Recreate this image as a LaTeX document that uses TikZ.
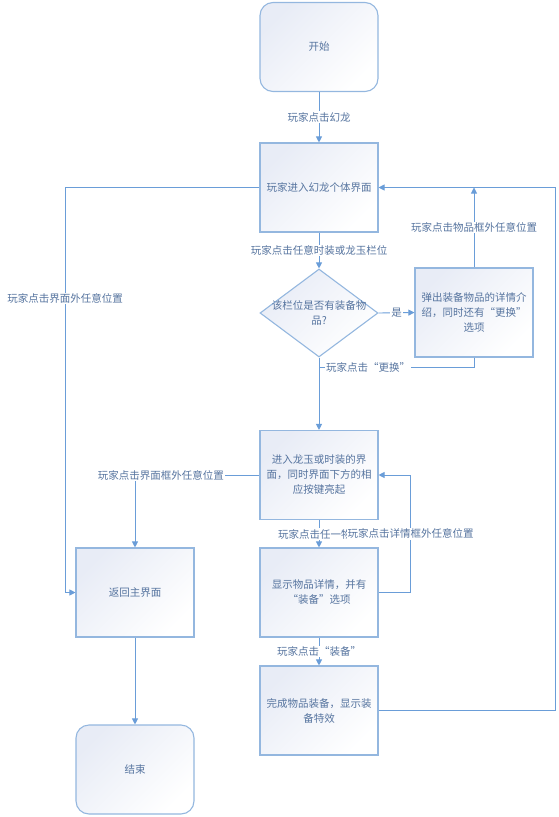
\documentclass[tikz,border=0pt]{standalone}
\usepackage{fontspec}
\setmainfont{Noto Sans CJK SC}
\usetikzlibrary{arrows.meta,shapes.geometric}
\definecolor{lnc}{HTML}{6A9DD8}
\definecolor{tx}{HTML}{56749F}
\definecolor{bd}{HTML}{94B7DF}
\definecolor{sh}{HTML}{E8ECF6}
\begin{document}
\begin{tikzpicture}[x=1pt,y=-1pt,
 every node/.style={font=\fontsize{10.5}{15}\selectfont, text=tx},
 box/.style={draw=bd, line width=1.1pt, minimum width=118pt, minimum height=89pt, inner sep=2pt, align=center, shading=axis, top color=sh, bottom color=white, shading angle=45},
 rbox/.style={box, rounded corners=13pt},
 dbox/.style={diamond, draw=bd, line width=1.1pt, minimum width=118pt, minimum height=88pt, inner sep=0pt, shading=axis, top color=sh, bottom color=white, shading angle=45},
 lbl/.style={fill=white, inner sep=1pt},
 arr/.style={draw=lnc, line width=0.9pt, -{Triangle[length=6pt,width=6pt]}},
 plain/.style={draw=lnc, line width=0.9pt}]
\useasboundingbox (0,0) rectangle (558,817);

\node[rbox] (start) at (319,47) {开始};
\node[box] (b1) at (319,187.5) {玩家进入幻龙个体界面};
\node[dbox] (dia) at (319,313) {};
\node[align=center] at (dia) {该栏位是否有装备物\\品?};
\node[box] (b2) at (474,312.5) {弹出装备物品的详情介\\绍，同时还有“更换”\\选项};
\node[box] (b3) at (319,475) {进入龙玉或时装的界\\面，同时界面下方的相\\应按键亮起};
\node[box] (rt) at (135,592.5) {返回主界面};
\node[box] (b4) at (319,592.5) {显示物品详情，并有\\“装备”选项};
\node[box] (b5) at (319,710.5) {完成物品装备，显示装\\备特效};
\node[rbox] (end) at (135,769.5) {结束};

\coordinate (j1) at (474,187.5);
\coordinate (m) at (319,367);
\coordinate (cL) at (65,187.5);

\draw[arr] (start) -- node[lbl]{玩家点击幻龙} (b1);
\draw[arr] (b1) -- node[lbl]{玩家点击任意时装或龙玉栏位} (dia);
\draw[arr] (dia.east) -- node[lbl]{是} (b2.west);
\draw[arr] (b2.north) -- node[lbl]{玩家点击物品框外任意位置} (j1);
\draw[arr] (b5.east) -- ++(177,0) |- (b1.east);
\draw[plain] (b2.south) |- (m);
\node[lbl] at (368,367) {玩家点击“更换”};
\draw[arr] (dia.south) -- (b3.north);
\draw[arr] (b3.west) -| node[lbl,pos=0.396]{玩家点击界面框外任意位置} (rt.north);
\draw[arr] (b1.west) -- (cL) |- node[lbl,pos=0.137]{玩家点击界面外任意位置} (rt.west);
\draw[arr] (b3.south) -- (b4.north);
\node[lbl,anchor=west] at (277,534) {玩家点击任一物};
\draw[arr] (b4.east) -- ++(32,0) |- node[lbl,pos=0.25]{玩家点击详情框外任意位置} (b3.east);
\draw[arr] (b4) -- node[lbl]{玩家点击“装备”} (b5);
\draw[arr] (rt) -- (end);
\end{tikzpicture}
\end{document}
